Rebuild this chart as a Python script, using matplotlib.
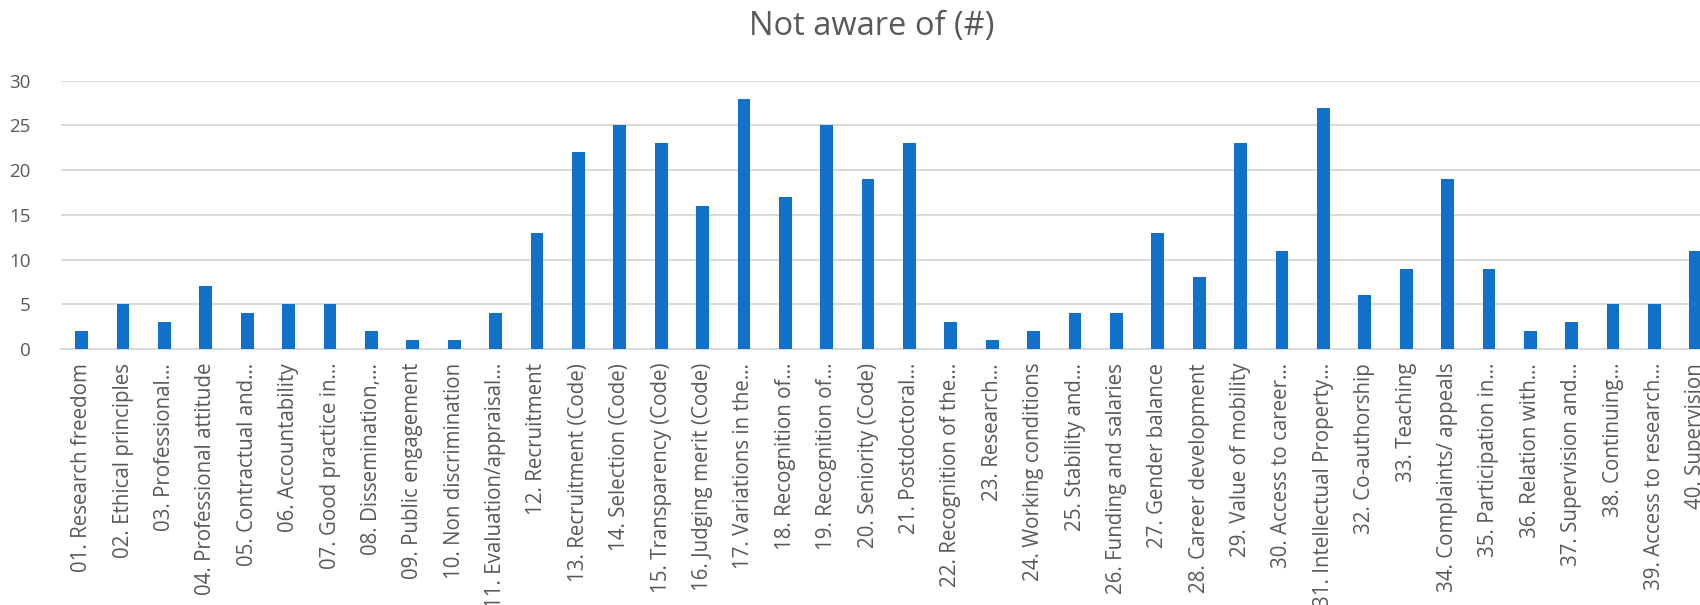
import matplotlib
matplotlib.use("Agg")
import matplotlib.pyplot as plt
import numpy as np

categories = [
    "01. Research freedom", "02. Ethical principles", "03. Professional…",
    "04. Professional attitude", "05. Contractual and…", "06. Accountability",
    "07. Good practice in…", "08. Dissemination,…", "09. Public engagement",
    "10. Non discrimination", "11. Evaluation/appraisal…", "12. Recruitment",
    "13. Recruitment (Code)", "14. Selection (Code)", "15. Transparency (Code)",
    "16. Judging merit (Code)", "17. Variations in the…", "18. Recognition of…",
    "19. Recognition of…", "20. Seniority (Code)", "21. Postdoctoral…",
    "22. Recognition of the…", "23. Research…", "24. Working conditions",
    "25. Stability and…", "26. Funding and salaries", "27. Gender balance",
    "28. Career development", "29. Value of mobility", "30. Access to career…",
    "31. Intellectual Property…", "32. Co-authorship", "33. Teaching",
    "34. Complaints/ appeals", "35. Participation in…", "36. Relation with…",
    "37. Supervision and…", "38. Continuing…", "39. Access to research…",
    "40. Supervision",
]
values = [2, 5, 3, 7, 4, 5, 5, 2, 1, 1, 4, 13, 22, 25, 23, 16, 28, 17, 25, 19,
          23, 3, 1, 2, 4, 4, 13, 8, 23, 11, 27, 6, 9, 19, 9, 2, 3, 5, 5, 11]
yticks = [0, 5, 10, 15, 20, 25, 30]
title = "Not aware of (#)"

W, H = 1700, 605
fig = plt.figure(figsize=(W / 100, H / 100), dpi=100)
ax = fig.add_axes([61 / W, 1 - 349 / H, (W - 61) / W, (349 - 80.7) / H])

x = np.arange(len(values))
ax.bar(x, values, width=0.31, color="#1170C8", zorder=3)

ax.set_ylim(0, 30)
ax.set_xlim(-0.5, 39.1)
ax.set_yticks(yticks)
ax.set_yticklabels([str(v) for v in yticks])
ax.set_xticks(x)
ax.set_xticklabels(categories, rotation=90, ha="center", va="top")

ax.grid(axis="y", color="#D9D9D9", linewidth=1.4, zorder=0)
for s in ["top", "right", "left"]:
    ax.spines[s].set_visible(False)
ax.spines["bottom"].set_color("#D9D9D9")
ax.spines["bottom"].set_linewidth(1.4)
ax.tick_params(axis="both", length=0, colors="#595959")
ax.tick_params(axis="y", pad=22, labelsize=13.5)
ax.tick_params(axis="x", pad=10, labelsize=14.8)
for lbl in ax.get_xticklabels() + ax.get_yticklabels():
    lbl.set_fontfamily("Open Sans")

fig.text(872 / W, 1 - 27 / H, title, ha="center", va="center",
         fontsize=23.5, color="#595959", fontfamily="Open Sans")

fig.savefig("out.png", dpi=100)
